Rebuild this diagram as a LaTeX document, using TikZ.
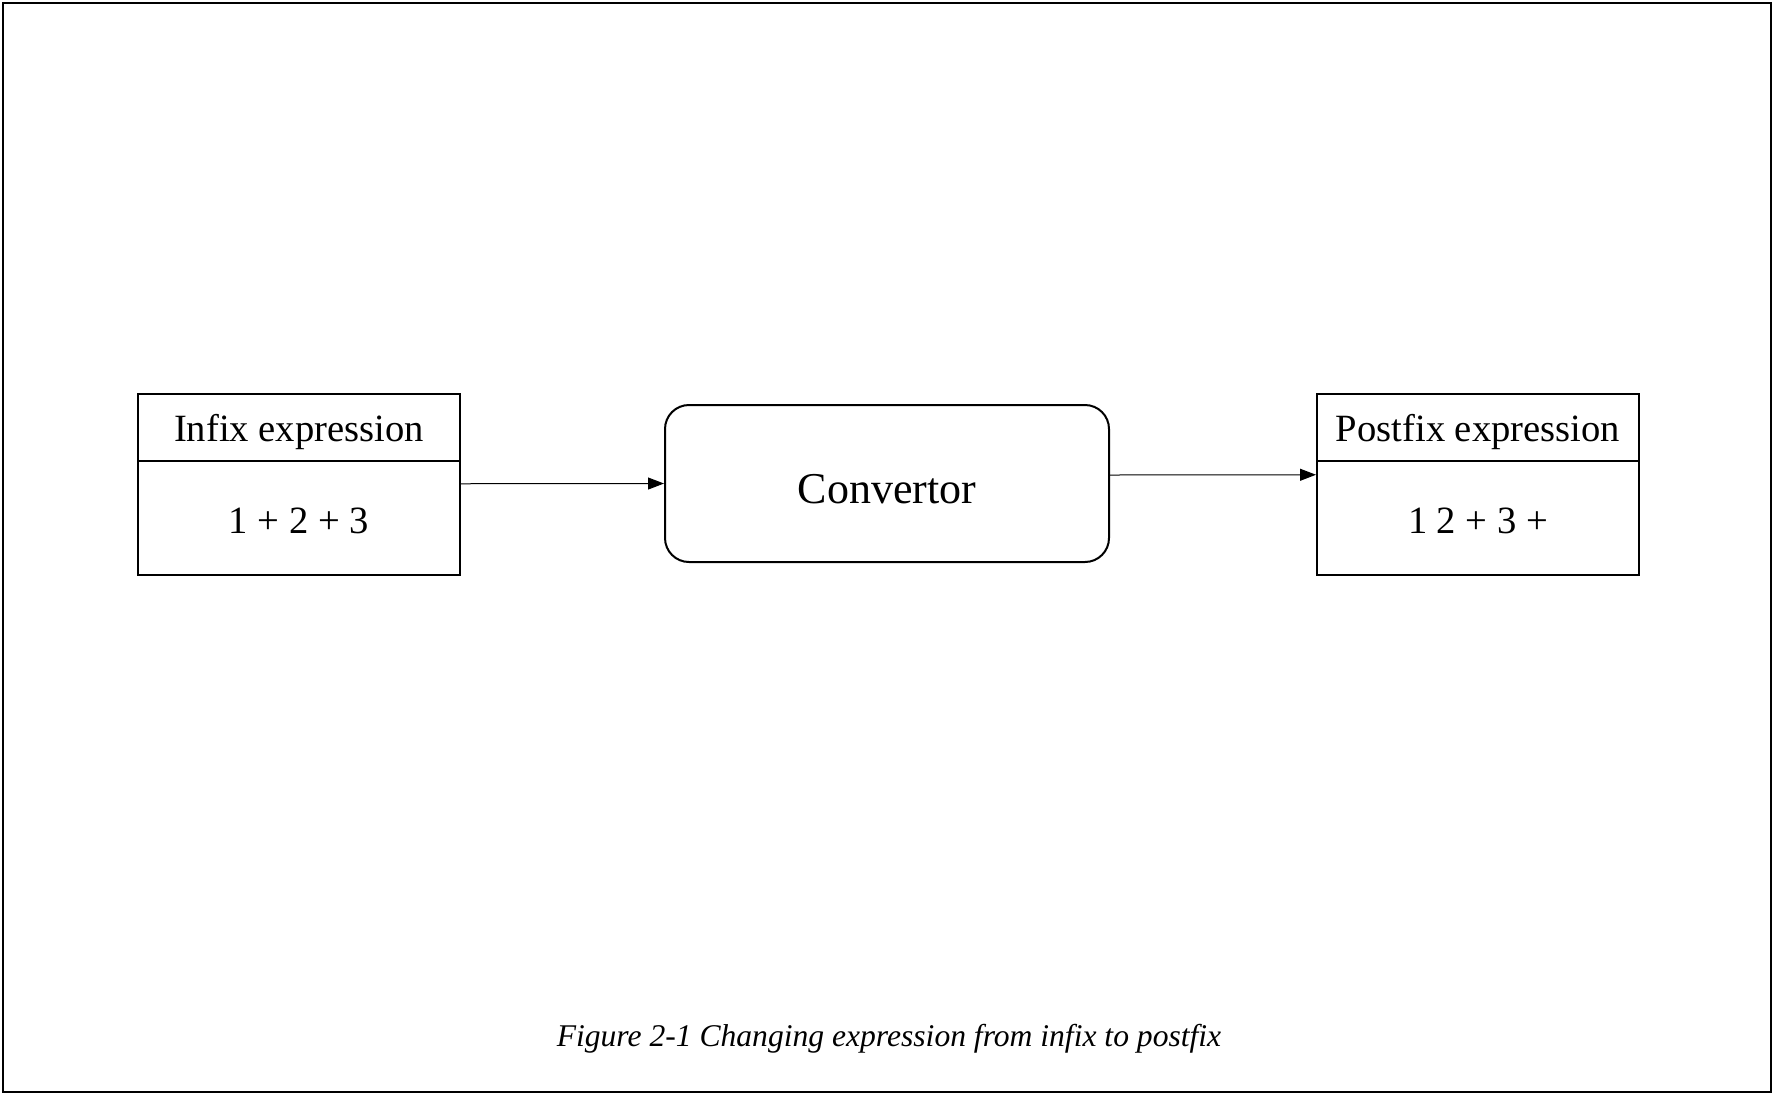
\documentclass[tikz,border=0pt]{standalone}
\usepackage{fontspec}
\setmainfont{Liberation Serif}
\usetikzlibrary{arrows.meta,positioning}
\begin{document}
\begin{tikzpicture}[x=1pt,y=-1pt,
  cell/.style={draw,line width=2pt,minimum width=322pt,inner sep=0pt,font=\fontsize{38.6}{44}\selectfont},
  headcell/.style={cell,minimum height=66.5pt,text height=33pt,text depth=4pt},
  bodycell/.style={cell,minimum height=114.5pt,text height=34pt,text depth=3.4pt},
  conv/.style={draw,line width=2pt,rounded corners=24pt,minimum width=444pt,minimum height=157pt,inner sep=0pt,text height=42pt,text depth=3pt,font=\fontsize{44}{50}\selectfont},
  link/.style={line width=1pt,-{Triangle[length=16pt,width=12pt]}}
]
\useasboundingbox (0,0) rectangle (1774,1096);
\draw[line width=2.5pt] (3,3) rectangle (1771,1092);
% left
\node[headcell] (inhead) at (299,427.25) {Infix expression};
\node[bodycell] (inbody) at (299,517.75) {1 + 2 + 3};
% convertor
\node[conv] (cv) at (887,483.5) {Convertor};
% right
\node[headcell] (outhead) at (1478,427.25) {Postfix expression};
\node[bodycell] (outbody) at (1478,517.75) {1 2 + 3 +};
% arrows
\draw[link] ([yshift=34pt]inbody.east) -- (cv.west);
\draw[link] ([yshift=8.5pt]cv.east) -- ([yshift=43pt]outbody.west);
% caption
\node[font=\fontsize{31.6}{36}\selectfont\itshape] (cap) at (889,1039) {Figure 2-1 Changing expression from infix to postfix};
\end{tikzpicture}
\end{document}
